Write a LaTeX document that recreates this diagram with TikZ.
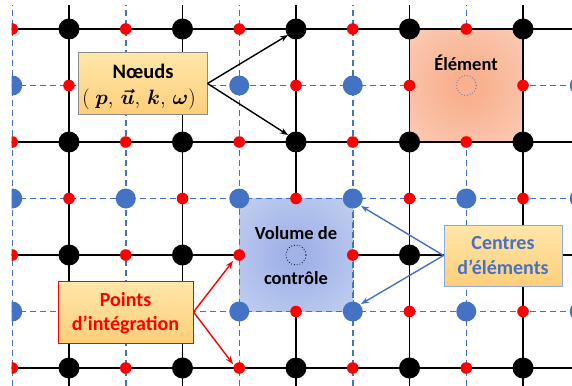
\documentclass[tikz,border=0pt]{standalone}
\usepackage{amsmath,bm}
\usepackage{fontspec}
\setmainfont{Carlito}
\usetikzlibrary{arrows.meta}
\definecolor{gblue}{HTML}{4472C4}
\definecolor{gred}{HTML}{FF0000}
\definecolor{boxtop}{HTML}{FFE6AA}
\definecolor{boxbot}{HTML}{FFCF7A}
\definecolor{nborder}{HTML}{8C8C8C}
\definecolor{cborder}{HTML}{8FAADC}
\definecolor{elemin}{HTML}{F8B08E}
\definecolor{elemout}{HTML}{FDDED1}
\definecolor{volin}{HTML}{9FB3E8}
\definecolor{volout}{HTML}{D9E1F5}
\pgfdeclareradialshading{elemshade}{\pgfpoint{0bp}{0bp}}{color(0bp)=(elemin); color(6bp)=(elemin); color(55bp)=(elemout); color(72bp)=(elemout)}
\pgfdeclareradialshading{volshade}{\pgfpoint{0bp}{0bp}}{color(0bp)=(volin); color(6bp)=(volin); color(55bp)=(volout); color(72bp)=(volout)}
\tikzset{
  dashline/.style={gblue, line width=1.5pt, dash pattern=on 6pt off 4pt},
  gridline/.style={black, line width=1.6pt},
  bluedot/.style={fill=gblue},
  reddot/.style={fill=gred},
  blackdot/.style={fill=black},
  infobox/.style={draw, line width=1pt, top color=boxtop, bottom color=boxbot, inner sep=0pt, align=center, font=\bfseries},
  arr/.style={line width=1.4pt, -{Stealth[length=8pt,width=6pt]}},
  lbl/.style={font=\bfseries\fontsize{18.5}{22}\selectfont, inner sep=0pt},
  boxtext/.style={inner sep=0pt, font=\bfseries\fontsize{20}{24}\selectfont}
}
\begin{document}
\begin{tikzpicture}[x=1pt,y=-1pt]
\useasboundingbox (0,0) rectangle (572,385);
\fill[white] (0,0) rectangle (572,385);
\begin{scope}
\clip (11.5,6) rectangle (572,385);
% dashed element-centre lines
\foreach \x in {12.25,125.75,239.25,352.75,466.25,579.75}
  \draw[dashline] (\x,0) -- (\x,400);
\foreach \y in {85.5,198.5,311.5}
  \draw[dashline] (0,\y) -- (600,\y);
% element square
\shade[shading=elemshade] (409.5,29) rectangle (523,142);
% black grid
\foreach \x in {69,182.5,296,409.5,523}
  \draw[gridline] (\x,0) -- (\x,400);
\foreach \y in {29,142,255,368}
  \draw[gridline] (0,\y) -- (600,\y);
% control volume
\shade[shading=volshade] (239.25,198.5) rectangle (352.75,311.5);
\draw[dashline] (239.25,198.5) rectangle (352.75,311.5);
% blue dots
\foreach \x in {12.25,125.75,239.25,352.75,466.25,579.75}
  \foreach \y in {85.5,198.5,311.5}{
    \ifdim\x pt=466.25pt \ifdim\y pt=85.5pt \else \fill[bluedot] (\x,\y) circle (10);\fi
    \else \fill[bluedot] (\x,\y) circle (10);\fi
  }
% red dots
\foreach \x in {12.25,125.75,239.25,352.75,466.25,579.75}
  \foreach \y in {29,142,255,368}
    \fill[reddot] (\x,\y) circle (5.8);
\foreach \x in {69,182.5,296,409.5,523}
  \foreach \y in {85.5,198.5,311.5}
    \fill[reddot] (\x,\y) circle (5.8);
% black dots
\foreach \x in {69,182.5,296,409.5,523}
  \foreach \y in {29,142,255,368}{
    \ifdim\x pt=296pt \ifdim\y pt=255pt \else \fill[blackdot] (\x,\y) circle (10.5);\fi
    \else \fill[blackdot] (\x,\y) circle (10.5);\fi
  }
\end{scope}
% dotted centre circles
\draw[gblue, line width=0.8pt, dotted] (466.25,85.5) circle (10);
\draw[black, line width=0.8pt, dotted] (296,255) circle (10);
% labels
\node[lbl] (elem) at (466,63) {Élément};
\node[lbl] (vol1) at (296,233) {Volume de};
\node[lbl] (vol2) at (296,278) {contrôle};
% boxes
\node[infobox, draw=nborder, minimum width=129pt, minimum height=61pt] (noeuds) at (142.5,83.5) {};
\node[boxtext, font=\bfseries\fontsize{20.5}{24}\selectfont] (noeudsA) at (143,71) {Nœuds};
\node[boxtext, font=\fontsize{22}{26}\selectfont] (noeudsB) at (139,99) {$(\;\bm{p},\,\bm{\vec{u}},\,\bm{k},\,\bm{\omega})$};
\node[infobox, draw=gred, minimum width=135pt, minimum height=62pt] (points) at (125.5,312) {};
\node[boxtext, text=gred] (pointsA) at (125.5,300) {Points};
\node[boxtext, text=gred] (pointsB) at (125.5,324.5) {d’intégration};
\node[infobox, draw=cborder, minimum width=118pt, minimum height=61pt] (centres) at (503,255.5) {};
\node[boxtext, text=gblue] (centresA) at (503,243) {Centres};
\node[boxtext, text=gblue] (centresB) at (503,267.5) {d’éléments};
% arrow targets
\coordinate (n1) at (288,35);
\coordinate (n2) at (288,135);
\coordinate (p1) at (233,261);
\coordinate (p2) at (233,364);
\coordinate (c1) at (361,206);
\coordinate (c2) at (361,304);
\draw[arr, black] (noeuds.east) -- (n1);
\draw[arr, black] (noeuds.east) -- (n2);
\draw[arr, gred] (points.east) -- (p1);
\draw[arr, gred] (points.east) -- (p2);
\draw[arr, gblue] (centres.west) -- (c1);
\draw[arr, gblue] (centres.west) -- (c2);
\end{tikzpicture}
\end{document}
